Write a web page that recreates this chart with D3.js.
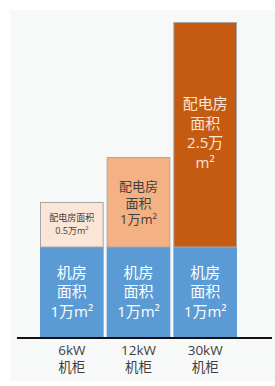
<!DOCTYPE html>
<html>
<head>
<meta charset="utf-8">
<script src="https://cdn.jsdelivr.net/npm/d3@7"></script>
<style>
  html, body { margin: 0; padding: 0; background: #fff; }
  svg { display: block; font-family: "Open Sans", "Noto Sans CJK SC", sans-serif; }
</style>
</head>
<body>
<div id="chart"></div>
<script>
// Data
const categories = ['6kW', '12kW', '30kW']
const categoryLines = [['6kW', '机柜'], ['12kW', '机柜'], ['30kW', '机柜']]
const machineRoom = [1, 1, 1]            // 机房面积, 万m²
const powerRoom = [0.5, 1, 2.5]          // 配电房面积, 万m²
const machineLabels = [
  ['机房', '面积', '1万m²'],
  ['机房', '面积', '1万m²'],
  ['机房', '面积', '1万m²']
]
const powerLabels = [
  ['配电房面积', '0.5万m²'],
  ['配电房', '面积', '1万m²'],
  ['配电房', '面积', '2.5万', 'm²']
]

;(({ width, height }) => {
  const svg = d3.select('#chart')
    .append('svg')
    .attr('width', width)
    .attr('height', height)

  // panel background
  svg.append('rect')
    .attr('x', 10).attr('y', 10)
    .attr('width', width - 10).attr('height', 371)
    .attr('fill', '#f7f8f8')

  const x = d3.scaleBand()
    .domain(categories)
    .range([40, 237])
    .paddingInner(0.045)
    .paddingOuter(0)

  const y = d3.scaleLinear()
    .domain([0, 3.5])
    .range([337, 22])

  const powerColors = ['#fbe5d6', '#f4b183', '#c55a11']
  const powerText = ['#404040', '#404040', '#fbe5d6']
  const powerFont = [9, 13, 15]
  const powerStep = [13, 16.5, 19.5]

  const rows = categories.map((c, i) => ({
    c, i, m: machineRoom[i], p: powerRoom[i]
  }))

  // multi-line label as one text with tspans
  const label = (cx, cy, lines, step, size, color) => {
    const t = svg.append('text')
      .attr('text-anchor', 'middle')
      .attr('font-size', size)
      .attr('fill', color)
    t.selectAll('tspan')
      .data(lines)
      .enter()
      .append('tspan')
      .attr('x', cx)
      .attr('y', (s, k) => cy + (k - (lines.length - 1) / 2) * step)
      .attr('dy', '0.35em')
      .text(s => s)
  }

  // machine room bars (bottom)
  svg.selectAll('rect.machine')
    .data(rows)
    .enter()
    .append('rect')
    .attr('class', 'machine')
    .attr('x', d => x(d.c))
    .attr('width', x.bandwidth())
    .attr('y', d => y(d.m))
    .attr('height', d => y(0) - y(d.m))
    .attr('fill', '#5b9bd5')

  // power room bars (stacked on top)
  svg.selectAll('rect.power')
    .data(rows)
    .enter()
    .append('rect')
    .attr('class', 'power')
    .attr('x', d => x(d.c) + 0.5)
    .attr('width', x.bandwidth() - 1)
    .attr('y', d => y(d.m + d.p) + 0.5)
    .attr('height', d => y(d.m) - y(d.m + d.p) - 0.5)
    .attr('fill', d => powerColors[d.i])
    .attr('stroke', '#a6a6a6')
    .attr('stroke-width', 1)

  // labels inside machine bars
  rows.forEach(d => {
    const cx = x(d.c) + x.bandwidth() / 2
    const cy = (y(0) + y(d.m)) / 2
    label(cx, cy, machineLabels[d.i], 19.5, 15, '#ffffff')
  })

  // labels inside power bars
  rows.forEach(d => {
    const cx = x(d.c) + x.bandwidth() / 2
    let cy = (y(d.m) + y(d.m + d.p)) / 2
    if (d.i === 1) cy += 1
    if (d.i === 2) cy = 133
    label(cx, cy, powerLabels[d.i], powerStep[d.i], powerFont[d.i], powerText[d.i])
  })

  // baseline axis
  const xAxis = d3.axisBottom(x).tickSize(0).tickFormat('')
  const axisG = svg.append('g')
    .attr('transform', `translate(0,${y(0) + 1})`)
    .call(xAxis)
  axisG.select('.domain')
    .attr('d', 'M17,0H272')
    .attr('stroke', '#111')
    .attr('stroke-width', 2)

  // category labels
  categories.forEach((c, i) => {
    label(x(c) + x.bandwidth() / 2, 358.75, categoryLines[i], 17.5, 13.5, '#404040')
  })
})({ width: 275, height: 386 })
</script>
</body>
</html>
